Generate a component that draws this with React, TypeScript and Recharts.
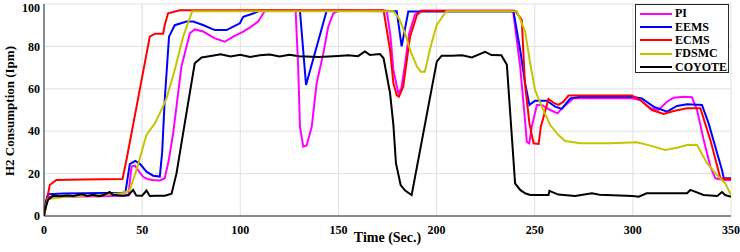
import { LineChart, Line, XAxis, YAxis, CartesianGrid, Legend } from "recharts";

// time (s) / H2 consumption (lpm)
const piT = [0, 1, 2, 10, 20, 30, 40, 43, 44.6, 46.3, 48, 50.5, 53, 55.6, 59, 61.5, 63.5, 65.8, 70, 74.3, 76.8, 81.1, 87, 92.1, 96.4, 101.5, 105, 109.1, 112.5, 128.2, 129.5, 130.4, 132.1, 133.8, 136.4, 138.9, 142.3, 144.8, 147.4, 150, 174.6, 176.5, 178, 180.5, 182, 184, 186, 189, 192, 239, 242.6, 244.6, 246, 247.2, 248.5, 251.1, 253.6, 257.9, 261.6, 264.7, 269.8, 299.5, 303.8, 308.9, 313.1, 317.4, 320.8, 325.9, 330.1, 332.7, 336.1, 339.5, 342, 346.3, 350];
const piV = [0, 6, 9, 9.1, 9.2, 9.3, 9.5, 10, 23.3, 23.7, 21.5, 18.5, 17.3, 17, 16.8, 17.8, 26, 39, 70.4, 86.2, 88, 87, 83.8, 82.2, 84.6, 87, 89, 91.7, 96.7, 96.7, 70.4, 42, 32.7, 33.3, 42.1, 62.6, 76.7, 89.3, 95.6, 96.8, 96.8, 85, 68.9, 58, 60, 72, 86, 95, 96.8, 96.8, 70.4, 50, 35, 34.3, 42.1, 52.4, 52.4, 50, 48.4, 51.6, 55.5, 55.5, 54.7, 50.8, 50, 53.9, 55.8, 56.3, 56, 50, 35.8, 23.3, 17.8, 17, 17];

const eemsT = [0, 1, 2, 10, 20, 30, 40, 41.5, 43.7, 46.5, 49, 52.2, 55.6, 59, 60.2, 61.5, 63.7, 66.6, 72.6, 76, 81, 87, 93, 96.4, 99.8, 101.5, 105.8, 110, 130.4, 133.5, 144, 179.7, 182.2, 185.6, 239.2, 242.6, 245.1, 247.3, 250.2, 256.2, 260.4, 263.8, 268.1, 273.2, 299.5, 304.6, 310.5, 317.4, 322.5, 327.6, 335.2, 338.6, 345.4, 346.3, 350];
const eemsV = [0, 7, 10.3, 10.6, 10.7, 10.8, 11, 11.2, 24.5, 26, 24.5, 20.9, 19, 18.6, 30, 54.7, 84.6, 90, 91.7, 91.7, 90.1, 87.7, 87.7, 89.3, 90.9, 94, 95.3, 96.8, 96.8, 61.8, 96.8, 96.6, 80, 96.5, 96.5, 78.3, 62.6, 52.4, 54.4, 54.4, 51.6, 50.5, 55.5, 56.3, 56.3, 55.5, 51.6, 49.2, 51.9, 52.7, 52.4, 43.7, 21.7, 17.8, 17.8];

const ecmsT = [0, 0.5, 2.9, 6.3, 20, 30, 40, 42, 53.9, 56.5, 60.7, 61.5, 63.2, 69.2, 173, 176.3, 178, 179.7, 180.8, 183, 186.5, 190, 192.4, 240, 243.4, 245, 247.3, 249.4, 252, 253.1, 257, 260, 262, 264.7, 267.2, 299.5, 303.8, 309.7, 315.7, 320.8, 327.6, 334.4, 339.5, 344.6, 350];
const ecmsV = [0, 2, 14.6, 17, 17.2, 17.3, 17.5, 26.4, 84.6, 86, 86, 90, 95.6, 97, 97, 78.3, 62.6, 57, 56.3, 61, 84.6, 94.8, 96.8, 96.8, 92.5, 62.6, 43.7, 34.3, 34, 42, 55.2, 53.2, 52.4, 53.9, 56.8, 56.8, 54.7, 50, 48.1, 49.5, 50.8, 50.8, 35.8, 17.8, 17.3];

const fdsmcT = [0, 1, 2, 10, 20, 30, 40, 43.7, 45.4, 47.1, 52.2, 56.5, 59, 62.4, 66.6, 70.9, 75.5, 178, 181, 184, 187, 190, 192, 194, 197, 200, 205, 240.9, 245.1, 247.7, 250.2, 253.6, 257.9, 262.1, 265.5, 273.2, 288.5, 302.1, 308.9, 316.5, 322.5, 327.6, 332.7, 337.8, 342.9, 347.1, 350];
const fdsmcV = [0, 5, 8, 9, 9.5, 10, 10.7, 12.3, 17, 21.7, 38.2, 43.7, 48.4, 55.5, 68.9, 84.6, 96.6, 96.6, 93, 86, 77, 70.5, 68, 68, 80, 90, 96.6, 96.6, 87, 72, 59.4, 51.6, 42.9, 38.2, 35.4, 34.3, 34.3, 34.8, 33.2, 31.1, 32.2, 33.5, 33.5, 24.9, 19.3, 15.4, 9.9];

const coyT = [0, 0.5, 2, 4.5, 8, 12, 15, 19, 22, 25, 28, 30, 33.5, 35, 40, 43, 45.4, 47, 50, 52.2, 53.9, 57, 61.6, 65, 67.5, 71.7, 76.8, 80.3, 85, 90, 95, 100, 105, 110, 115, 120, 125, 130, 140, 150, 155, 160, 163.5, 166, 171.2, 173, 176.3, 178, 179.3, 181.7, 184, 187.3, 200.1, 202.6, 207.7, 213, 218, 224.7, 228, 233, 235.8, 240, 242.6, 245.1, 247.7, 257, 257.5, 262, 270.6, 279.1, 283, 300, 303, 307, 327.6, 329.3, 336, 343, 345.4, 347, 350];
const coyV = [0, 3, 7.5, 9.6, 9.3, 9.7, 9.4, 10.3, 9.5, 10, 9.3, 9.8, 11.3, 10, 9.6, 9.8, 12.3, 9.7, 9.6, 12, 9.4, 9.5, 9.6, 10.5, 20.1, 43.7, 72, 74.8, 75.5, 76.3, 75.2, 76, 75, 75.8, 76.2, 75.3, 76, 75.4, 75, 75.5, 75.8, 75.4, 77.6, 76, 76.4, 74.4, 58, 43, 24.9, 14.6, 12, 9.9, 72.8, 75.6, 75.6, 75.8, 74.8, 77.4, 75.9, 75.8, 71.4, 15.4, 12.3, 10.7, 9.9, 9.9, 11.9, 10.1, 9.4, 10.7, 10, 9.4, 9.1, 10.7, 10.7, 12.3, 9.9, 9.4, 11.3, 9.9, 9.1];

const xTicks = [0, 50, 100, 150, 200, 250, 300, 350];
const yTicks = [0, 20, 40, 60, 80, 100];

const toRows = (t: number[], v: number[]) => t.map((x, i) => ({ t: x, v: v[i] }));

const series = [
  { name: "PI", color: "#ff00ff", data: toRows(piT, piV) },
  { name: "EEMS", color: "#0000ff", data: toRows(eemsT, eemsV) },
  { name: "ECMS", color: "#ff0000", data: toRows(ecmsT, ecmsV) },
  { name: "FDSMC", color: "#c4c400", data: toRows(fdsmcT, fdsmcV) },
  { name: "COYOTE", color: "#000000", data: toRows(coyT, coyV) },
];

const font = '"Liberation Serif", "Times New Roman", serif';
const tickStyle = { fill: "#000", fontSize: 12, fontWeight: 700, fontFamily: font };

// keep MATLAB order instead of recharts' sorted payload
const renderLegend = () => (
  <div style={{ width: 94, height: 69, boxSizing: "border-box", border: "1px solid #262626", background: "#fff", paddingTop: 2 }}>
    {series.map((s) => (
      <div key={s.name} style={{ display: "flex", alignItems: "center", height: 13.4 }}>
        <div style={{ width: 32, height: 2, background: s.color, marginLeft: 4, marginRight: 3 }} />
        <span style={{ fontFamily: font, fontWeight: 700, fontSize: 12, color: "#000", lineHeight: "13px" }}>{s.name}</span>
      </div>
    ))}
  </div>
);

export default function App() {
  return (
    <div style={{ position: "absolute", left: 0, top: 0, background: "#fff" }}>
      <LineChart width={740} height={252} margin={{ top: 4, right: 9, left: 0, bottom: 0 }}>
        <CartesianGrid stroke="#e0e0e0" strokeWidth={1} />
        <XAxis
          dataKey="t"
          type="number"
          domain={[0, 350]}
          ticks={xTicks}
          height={36}
          tick={tickStyle}
          tickLine={false}
          tickSize={0}
          tickMargin={9}
          axisLine={{ stroke: "#262626" }}
          allowDataOverflow
          label={{
            content: () => (
              <text x={387.5} y={242} textAnchor="middle" style={{ fontFamily: font, fontWeight: 700, fontSize: 14, fill: "#000" }}>
                Time (Sec.)
              </text>
            ),
          }}
        />
        <XAxis xAxisId="top" orientation="top" dataKey="t" type="number" domain={[0, 350]} height={0} tick={false} tickLine={false} axisLine={{ stroke: "#262626" }} />
        <YAxis
          domain={[0, 100]}
          ticks={yTicks}
          width={44}
          tick={tickStyle}
          tickLine={false}
          tickSize={0}
          tickMargin={4}
          axisLine={{ stroke: "#262626" }}
          allowDataOverflow
          label={{
            content: () => (
              <text x={14} y={111} transform="rotate(-90, 14, 111)" textAnchor="middle" style={{ fontFamily: font, fontWeight: 700, fontSize: 13, fill: "#000" }}>
                H2 Consumption (Ipm)
              </text>
            ),
          }}
        />
        <YAxis yAxisId="right" orientation="right" domain={[0, 100]} width={0} tick={false} tickLine={false} axisLine={{ stroke: "#262626" }} />
        <Legend
          layout="horizontal"
          verticalAlign="middle"
          align="center"
          wrapperStyle={{ left: 635, top: 4, width: 94, height: 69 }}
          content={renderLegend}
        />
        {series.map((s) => (
          <Line
            key={s.name}
            data={s.data}
            dataKey="v"
            name={s.name}
            type="linear"
            stroke={s.color}
            strokeWidth={2}
            dot={false}
            isAnimationActive={false}
          />
        ))}
      </LineChart>
    </div>
  );
}
